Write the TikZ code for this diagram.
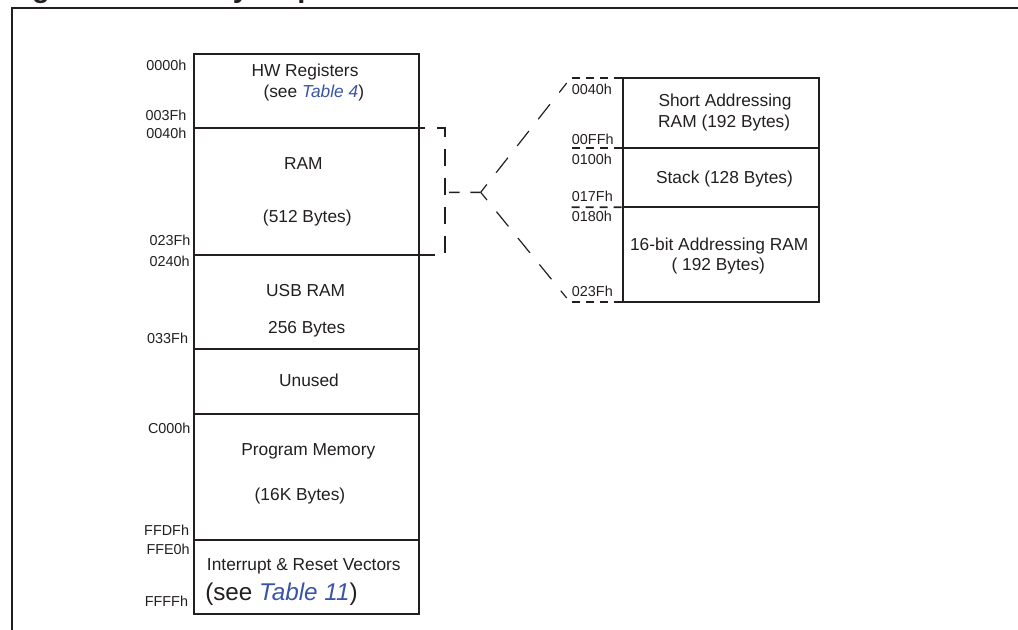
\documentclass[tikz,border=0pt]{standalone}
\usepackage{fontspec}
\setmainfont{Liberation Sans}
\usetikzlibrary{fit,calc}
\definecolor{tcol}{HTML}{231F20}
\definecolor{linkc}{HTML}{3A55A8}
\begin{document}
\begin{tikzpicture}[x=0.75pt,y=-0.75pt,
  blk/.style={draw=tcol, line width=1.5pt, inner sep=0pt, outer sep=0pt, rectangle},
  lbl/.style={text=tcol, inner sep=0pt, font=\fontsize{13}{15}\selectfont, anchor=base},
  biglbl/.style={text=tcol, inner sep=0pt, font=\fontsize{18.2}{22}\selectfont, anchor=base west},
  adr/.style={text=tcol, inner sep=0pt, font=\fontsize{10.8}{13}\selectfont, anchor=base east},
  adrl/.style={adr, anchor=base west},
  brack/.style={draw=tcol, line width=1.2pt, dash pattern=on 12.75pt off 9pt, dash phase=8.25pt},
  midln/.style={draw=tcol, line width=1.2pt, dash pattern=on 8pt off 8pt, dash phase=13pt},
  diag/.style={draw=tcol, line width=0.9pt, dash pattern=on 14.25pt off 11.25pt, dash phase=6.75pt},
  ext/.style={draw=tcol, line width=1.3pt, dash pattern=on 6pt off 4.5pt},
  frame/.style={draw=tcol, line width=1.3pt},
  ttl/.style={text=tcol, inner sep=0pt, font=\fontsize{21.75}{26}\selectfont\bfseries, anchor=base west}]
\useasboundingbox (0,0) rectangle (1018,629);
\clip (0,0) rectangle (1018,629);

% title (cut off at top of the picture) and frame
\node[ttl] (title) at (6,-3) {Figure 5. Memory Map};
\draw[frame] (1030,8) -- (12,8) -- (12,640);

% main memory map blocks
\node[blk, fit={(193.5,54)(419,127.7)}] (hw) {};
\node[blk, fit={(193.5,127.7)(419,255)}] (ram) {};
\node[blk, fit={(193.5,255)(419,349)}] (usb) {};
\node[blk, fit={(193.5,349)(419,414)}] (unused) {};
\node[blk, fit={(193.5,414)(419,540)}] (prog) {};
\node[blk, fit={(193.5,540)(419,614.3)}] (vec) {};

% labels in main blocks
\node[lbl] (thw) at (305,76) {HW Registers};
\node[lbl] (thw2) at (313.8,97) {(see \textit{\color{linkc}Table 4})};
\node[lbl] (tram) at (303.3,169.5) {RAM};
\node[lbl] (tram2) at (307.3,222) {(512 Bytes)};
\node[lbl] (tusb) at (305.7,296) {USB RAM};
\node[lbl] (tusb2) at (306.7,333.3) {256 Bytes};
\node[lbl] (tun) at (309,386.7) {Unused};
\node[lbl] (tprog) at (308.3,455) {Program Memory};
\node[lbl] (tprog2) at (300,500) {(16K Bytes)};
\node[lbl] (tvec) at (303.8,570.7) {Interrupt \& Reset Vectors};
\node[biglbl] (tvec2) at (205,600) {(see \textit{\color{linkc}Table 11})};

% addresses of main blocks
\node[adr] (a1) at (186.7,70) {0000h};
\node[adr] (a2) at (186.7,120) {003Fh};
\node[adr] (a3) at (186.7,138.3) {0040h};
\node[adr] (a4) at (190.7,245) {023Fh};
\node[adr] (a5) at (190,266.5) {0240h};
\node[adr] (a6) at (188.3,343.3) {033Fh};
\node[adr] (a7) at (190.7,433.3) {C000h};
\node[adr] (a8) at (189.3,535) {FFDFh};
\node[adr] (a9) at (190,554.3) {FFE0h};
\node[adr] (a10) at (188.3,606) {FFFFh};

% expanded RAM blocks
\node[blk, fit={(623.3,78.3)(819,148.3)}] (sar) {};
\node[blk, fit={(623.3,148.3)(819,207.3)}] (stk) {};
\node[blk, fit={(623.3,207.3)(819,301.7)}] (bar) {};

\node[lbl] (tsar) at (725,106.5) {Short Addressing};
\node[lbl] (tsar2) at (724.2,127.5) {RAM (192 Bytes)};
\node[lbl] (tstk) at (724.5,183) {Stack (128 Bytes)};
\node[lbl] (tbar) at (719.2,250.5) {16-bit Addressing RAM};
\node[lbl] (tbar2) at (718.3,270.5) {( 192 Bytes)};

\node[adrl] (b1) at (571.7,94.5) {0040h};
\node[adrl] (b2) at (571.7,144.3) {00FFh};
\node[adrl] (b3) at (571.7,164.5) {0100h};
\node[adrl] (b4) at (571.7,201.3) {017Fh};
\node[adrl] (b5) at (571.7,221.7) {0180h};
\node[adrl] (b6) at (571.7,296.3) {023Fh};

% dashed extension lines of the expanded blocks
\coordinate (e1) at (571.7,78.3);
\coordinate (e2) at (571.7,148.3);
\coordinate (e3) at (571.7,207.3);
\coordinate (e4) at (571.7,301.7);
\draw[ext] (e1) -- (sar.north west);
\draw[ext] (e2) -- (stk.north west);
\draw[ext] (e3) -- (bar.north west);
\draw[ext] (e4) -- (bar.south west);

% bracket around RAM and fan-out
\draw[brack] (ram.north east) -- ++(26,0) |- (ram.south east);
\coordinate (brk) at ($(ram.north east)!0.5!(ram.south east)+(26,1)$);
\coordinate (fork) at (480.7,192.3);
\draw[midln] (brk) -- (fork);
\draw[diag] (fork) -- ($(e1)+(-5,4.7)$);
\draw[diag] (fork) -- ($(e4)+(-5,-3.7)$);
\end{tikzpicture}
\end{document}
